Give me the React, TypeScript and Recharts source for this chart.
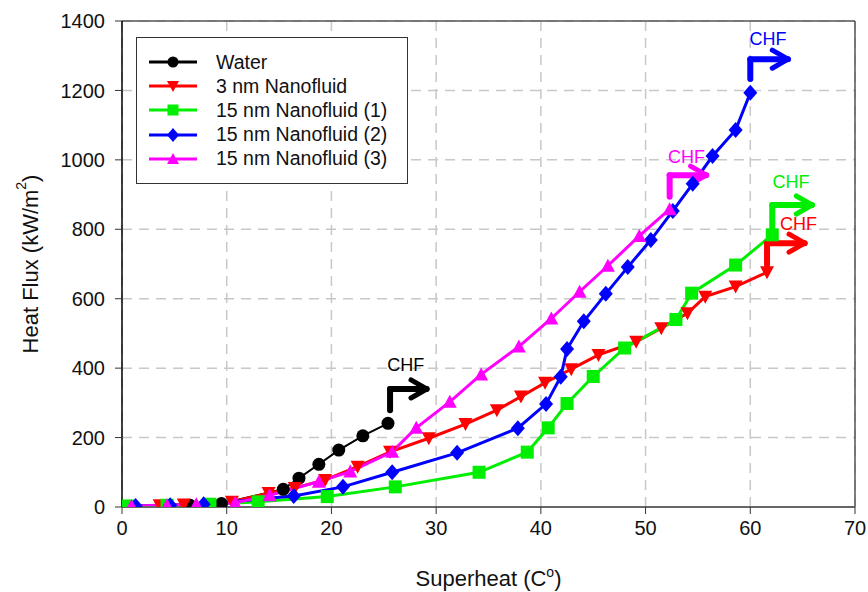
import React from 'react';
import { LineChart, Line, XAxis, YAxis, CartesianGrid, ReferenceLine, ReferenceDot } from 'recharts';

// superheat (C) / heat flux (kW/m2) pairs
const water = [
  { x: 6.5, y: 5 }, { x: 9.5, y: 10 }, { x: 15.4, y: 51 }, { x: 16.9, y: 83 },
  { x: 18.8, y: 123 }, { x: 20.7, y: 164 }, { x: 23.0, y: 205 }, { x: 25.4, y: 241 },
];
const nano3 = [
  { x: 0.3, y: 3 }, { x: 3.6, y: 5 }, { x: 5.9, y: 7 }, { x: 10.5, y: 15 }, { x: 14.0, y: 40 },
  { x: 16.5, y: 55 }, { x: 19.4, y: 78 }, { x: 22.5, y: 116 }, { x: 25.6, y: 159 }, { x: 29.3, y: 198 },
  { x: 32.8, y: 239 }, { x: 35.8, y: 279 }, { x: 38.1, y: 318 }, { x: 40.4, y: 358 }, { x: 42.9, y: 397 },
  { x: 45.5, y: 438 }, { x: 49.1, y: 476 }, { x: 51.5, y: 515 }, { x: 54.0, y: 558 }, { x: 55.7, y: 606 },
  { x: 58.6, y: 635 }, { x: 61.6, y: 676 },
];
const nano15a = [
  { x: 0.6, y: 3 }, { x: 4.3, y: 5 }, { x: 8.4, y: 8 }, { x: 13.0, y: 15 }, { x: 19.6, y: 30 },
  { x: 26.1, y: 58 }, { x: 34.1, y: 100 }, { x: 38.7, y: 158 }, { x: 40.7, y: 228 }, { x: 42.5, y: 298 },
  { x: 45.0, y: 376 }, { x: 48.0, y: 458 }, { x: 52.9, y: 540 }, { x: 54.4, y: 616 }, { x: 58.6, y: 697 },
  { x: 62.1, y: 784 },
];
const nano15b = [
  { x: 1.3, y: 3 }, { x: 4.6, y: 5 }, { x: 7.8, y: 8 }, { x: 16.4, y: 32 }, { x: 21.1, y: 58 },
  { x: 25.8, y: 100 }, { x: 32.0, y: 156 }, { x: 37.8, y: 227 }, { x: 40.5, y: 297 }, { x: 41.9, y: 375 },
  { x: 42.5, y: 455 }, { x: 44.1, y: 535 }, { x: 46.2, y: 614 }, { x: 48.3, y: 691 }, { x: 50.5, y: 769 },
  { x: 52.6, y: 853 }, { x: 54.5, y: 931 }, { x: 56.4, y: 1011 }, { x: 58.6, y: 1086 }, { x: 60.0, y: 1193 },
];
const nano15c = [
  { x: 0.9, y: 3 }, { x: 4.3, y: 5 }, { x: 7.1, y: 8 }, { x: 10.8, y: 12 }, { x: 14.1, y: 34 },
  { x: 18.8, y: 73 }, { x: 21.8, y: 102 }, { x: 25.8, y: 159 }, { x: 28.1, y: 228 }, { x: 31.3, y: 303 },
  { x: 34.3, y: 382 }, { x: 37.9, y: 462 }, { x: 41.0, y: 543 }, { x: 43.7, y: 620 }, { x: 46.4, y: 695 },
  { x: 49.4, y: 781 }, { x: 52.3, y: 858 },
];

const xTicks = [0, 10, 20, 30, 40, 50, 60, 70];
const yTicks = [0, 200, 400, 600, 800, 1000, 1200, 1400];

const series = [
  { name: 'Water', data: water, color: '#000000', marker: 'circle', width: 2 },
  { name: '3 nm Nanofluid', data: nano3, color: '#ff0000', marker: 'down', width: 3 },
  { name: '15 nm Nanofluid (1)', data: nano15a, color: '#00ee00', marker: 'square', width: 3 },
  { name: '15 nm Nanofluid (2)', data: nano15b, color: '#0000ff', marker: 'diamond', width: 3 },
  { name: '15 nm Nanofluid (3)', data: nano15c, color: '#ff00ff', marker: 'up', width: 3 },
];

// CHF bent arrows: vertical stem at x from y0 to y1, then right to x1
const chf = [
  { color: '#000000', x: 25.6, y0: 279, y1: 340, x1: 29.1, tx: 27.1, ty: 409 },
  { color: '#0000ff', x: 60.0, y0: 1233, y1: 1290, x1: 63.6, tx: 61.7, ty: 1348 },
  { color: '#ff00ff', x: 52.3, y0: 894, y1: 956, x1: 55.8, tx: 53.9, ty: 1009 },
  { color: '#00ee00', x: 62.1, y0: 804, y1: 870, x1: 65.9, tx: 63.9, ty: 937 },
  { color: '#ff0000', x: 61.6, y0: 697, y1: 760, x1: 65.2, tx: 64.6, ty: 815 },
];

const FONT = '"Liberation Sans", Arial, sans-serif';

const Marker = ({ type, cx, cy, color, s = 7 }: any) => {
  if (cx == null || cy == null) return null;
  switch (type) {
    case 'circle':
      return <circle cx={cx} cy={cy} r={s - 0.5} fill={color} />;
    case 'square':
      return <rect x={cx - s + 0.5} y={cy - s + 0.5} width={2 * s - 1} height={2 * s - 1} fill={color} />;
    case 'diamond':
      return <polygon points={`${cx},${cy - s - 1} ${cx + s},${cy} ${cx},${cy + s + 1} ${cx - s},${cy}`} fill={color} />;
    case 'down':
      return <polygon points={`${cx - s},${cy - s + 1} ${cx + s},${cy - s + 1} ${cx},${cy + s}`} fill={color} />;
    default:
      return <polygon points={`${cx - s},${cy + s - 1} ${cx + s},${cy + s - 1} ${cx},${cy - s}`} fill={color} />;
  }
};

const LegendBox = () => (
  <div
    style={{
      position: 'absolute',
      left: 136,
      top: 37,
      border: '1.5px solid #333',
      background: '#fff',
      width: 272,
      height: 147,
      boxSizing: 'border-box',
      padding: '12px 0 0 10px',
      fontFamily: FONT,
      fontSize: 19.5,
      color: '#111',
    }}
  >
    {series.map((s) => (
      <div key={s.name} style={{ display: 'flex', alignItems: 'center', height: 24.2 }}>
        <svg width={60} height={20} style={{ marginRight: 9 }}>
          <line x1={2} y1={10} x2={50} y2={10} stroke={s.color} strokeWidth={3} />
          <Marker type={s.marker} cx={26} cy={10} color={s.color} s={6} />
        </svg>
        <span>{s.name}</span>
      </div>
    ))}
  </div>
);

const YTitle = ({ viewBox }: any) => {
  const cx = 30;
  const cy = viewBox.y + viewBox.height / 2;
  return (
    <text x={cx} y={cy} transform={`rotate(-90 ${cx} ${cy})`} textAnchor="middle" dominantBaseline="central"
      fontFamily={FONT} fontSize={22} fill="#111">
      Heat Flux (kW/m<tspan dy={-9} fontSize={14}>2</tspan><tspan dy={9}>)</tspan>
    </text>
  );
};

const XTitle = ({ viewBox }: any) => {
  const cx = viewBox.x + viewBox.width / 2;
  return (
    <text x={cx} y={586} textAnchor="middle" fontFamily={FONT} fontSize={22} fill="#111">
      Superheat (C<tspan dy={-9} fontSize={14}>o</tspan><tspan dy={9}>)</tspan>
    </text>
  );
};

export default function App() {
  return (
    <div style={{ position: 'absolute', left: 0, top: 0, width: 868, height: 592, background: '#fff' }}>
      <LineChart width={868} height={592} margin={{ top: 21, right: 13, bottom: 0, left: 0 }}>
        <CartesianGrid strokeDasharray="10 7" stroke="#c8c8c8" strokeWidth={1.5} />
        <XAxis
          type="number"
          dataKey="x"
          domain={[0, 70]}
          ticks={xTicks}
          height={85}
          tickSize={7}
          tickMargin={7}
          axisLine={{ stroke: '#666', strokeWidth: 2 }}
          tickLine={{ stroke: '#333' }}
          tick={{ fill: '#111', fontSize: 20, fontFamily: FONT }}
          label={<XTitle />}
          allowDataOverflow
        />
        <YAxis
          type="number"
          dataKey="y"
          domain={[0, 1400]}
          ticks={yTicks}
          width={122}
          tickSize={7}
          tickMargin={10}
          axisLine={{ stroke: '#000', strokeWidth: 1.5 }}
          tickLine={{ stroke: '#333' }}
          tick={{ fill: '#111', fontSize: 20, fontFamily: FONT }}
          label={<YTitle />}
          allowDataOverflow
        />
        <ReferenceLine y={1400} stroke="#555" strokeWidth={1.5} />
        <ReferenceLine x={70} stroke="#555" strokeWidth={1.5} />
        {series.map((s) => (
          <Line
            key={s.name}
            name={s.name}
            data={s.data}
            dataKey="y"
            stroke={s.color}
            strokeWidth={s.width}
            isAnimationActive={false}
            dot={(p: any) => <Marker key={`${s.name}-${p.index}`} type={s.marker} cx={p.cx} cy={p.cy} color={s.color} />}
            activeDot={false}
          />
        ))}
        {chf.map((a, i) => [
          <ReferenceLine key={`v${i}`} segment={[{ x: a.x, y: a.y0 }, { x: a.x, y: a.y1 }]} stroke={a.color} strokeWidth={6} strokeLinecap="round" />,
          <ReferenceLine key={`h${i}`} segment={[{ x: a.x, y: a.y1 }, { x: a.x1, y: a.y1 }]} stroke={a.color} strokeWidth={6} strokeLinecap="round" />,
          <ReferenceLine key={`a${i}`} segment={[{ x: a.x1 - 1.5, y: a.y1 + 26 }, { x: a.x1, y: a.y1 }]} stroke={a.color} strokeWidth={5} strokeLinecap="round" />,
          <ReferenceLine key={`b${i}`} segment={[{ x: a.x1 - 1.5, y: a.y1 - 26 }, { x: a.x1, y: a.y1 }]} stroke={a.color} strokeWidth={5} strokeLinecap="round" />,
          <ReferenceDot
            key={`t${i}`}
            x={a.tx}
            y={a.ty}
            r={0}
            shape={(p: any) => (
              <text x={p.cx} y={p.cy} textAnchor="middle" dominantBaseline="central" fontFamily={FONT} fontSize={18} fill={a.color}>
                CHF
              </text>
            )}
          />,
        ])}
      </LineChart>
      <LegendBox />
    </div>
  );
}
